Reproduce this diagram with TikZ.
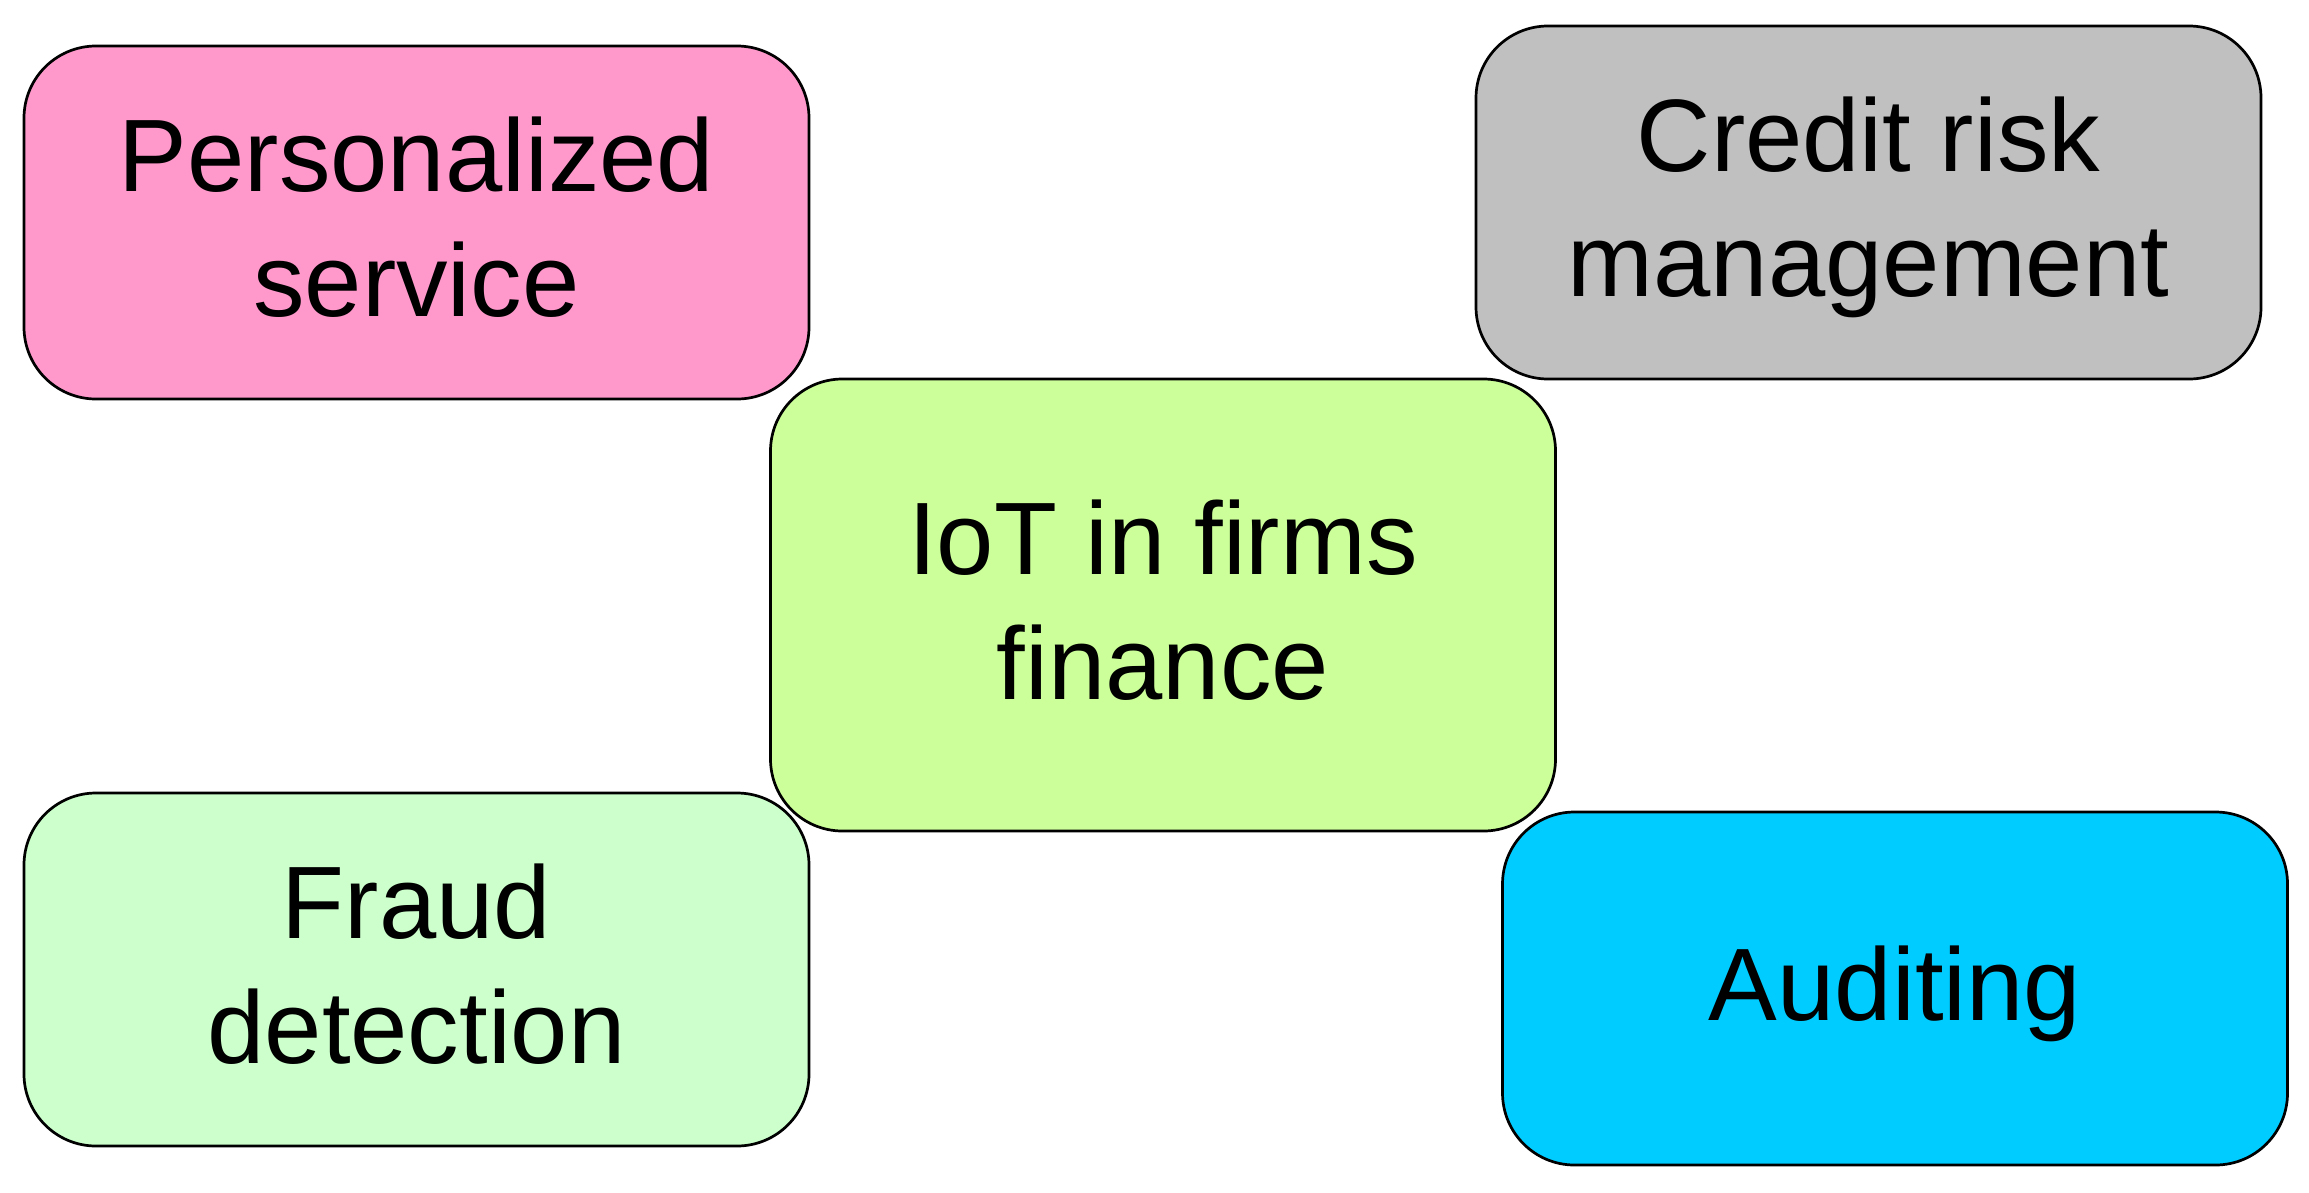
\documentclass[tikz,border=0pt]{standalone}
\usepackage{fontspec}
\setmainfont{Liberation Sans}
\definecolor{cpink}{HTML}{FF99CC}
\definecolor{cgray}{HTML}{C0C0C0}
\definecolor{clime}{HTML}{CCFF99}
\definecolor{cmint}{HTML}{CCFFCC}
\definecolor{ccyan}{HTML}{00CCFF}
\tikzset{
  topic/.style={draw=black, line width=2.7pt, rounded corners=72pt,
    minimum width=785pt, minimum height=353pt, inner sep=0pt,
    align=center, font=\fontsize{103pt}{125pt}\selectfont,
    text height=75pt, text depth=12pt},
  twolines/.style={text height=200pt}
}
\begin{document}
\begin{tikzpicture}[x=1pt,y=-1pt]
\useasboundingbox (0,0) rectangle (2309,1192);
\node[topic, twolines, fill=cpink] (pers) at (416.5,222.5) {Personalized\\service};
\node[topic, twolines, fill=cgray] (cred) at (1868.5,202.5) {Credit risk\\management};
\node[topic, twolines, fill=clime, minimum height=452pt] (iot) at (1163,605) {IoT in firms\\finance};
\node[topic, twolines, fill=cmint] (fraud) at (416.5,969.5) {Fraud\\detection};
\node[topic, fill=ccyan] (aud) at (1895,988.5) {Auditing};
\end{tikzpicture}
\end{document}
